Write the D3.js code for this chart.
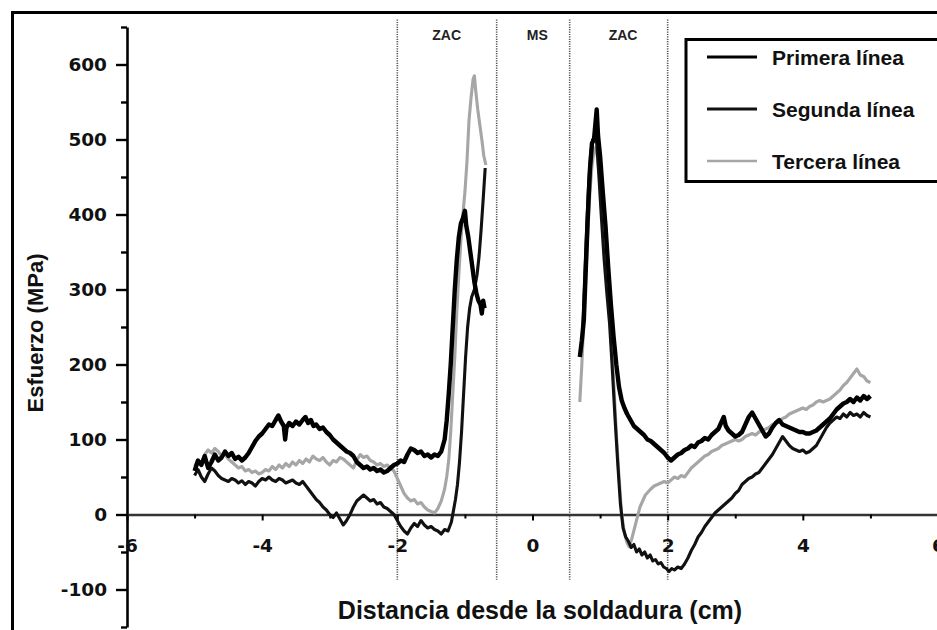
<!DOCTYPE html>
<html><head><meta charset="utf-8">
<script src="https://cdn.jsdelivr.net/npm/d3@7"></script>
<style>html,body{margin:0;padding:0;background:#fff;}svg{display:block;}</style>
</head><body>
<svg id="chart" width="937" height="630"></svg>
<script>
// ---------- DATA ----------
const xMajorTicks = [-6, -4, -2, 0, 2, 4, 6];
const xMinorTicks = [-5, -3, -1, 1, 3, 5];
const yMajorTicks = [-100, 0, 100, 200, 300, 400, 500, 600];
const yMinorTicks = [-150, -50, 50, 150, 250, 350, 450, 550, 650];
const zoneBounds = [-2, -0.53, 0.55, 2];
const zoneLabels = [{x: -1.27, t: "ZAC"}, {x: 0.07, t: "MS"}, {x: 1.34, t: "ZAC"}];
const seriesNames = ["Primera línea", "Segunda línea", "Tercera línea"];
const xTitle = "Distancia desde la soldadura (cm)";
const yTitle = "Esfuerzo (MPa)";

const primeraIzq = [[-5.00,58],[-4.95,72],[-4.90,66],[-4.85,78],[-4.80,62],[-4.75,70],[-4.70,80],[-4.65,72],[-4.60,76],[-4.55,84],[-4.50,78],[-4.45,82],[-4.40,74],[-4.35,77],[-4.30,72],[-4.25,76],[-4.20,82],[-4.15,90],[-4.10,98],[-4.05,104],[-4.00,108],[-3.95,114],[-3.90,120],[-3.85,118],[-3.80,126],[-3.76,132],[-3.72,124],[-3.68,118],[-3.66,100],[-3.64,116],[-3.60,122],[-3.55,118],[-3.50,124],[-3.45,120],[-3.40,126],[-3.36,130],[-3.32,122],[-3.28,126],[-3.24,118],[-3.20,120],[-3.15,114],[-3.10,116],[-3.05,110],[-3.00,106],[-2.95,100],[-2.90,96],[-2.85,92],[-2.80,88],[-2.75,84],[-2.70,82],[-2.65,78],[-2.60,70],[-2.55,66],[-2.50,62],[-2.45,64],[-2.40,60],[-2.35,62],[-2.30,58],[-2.25,60],[-2.20,56],[-2.15,58],[-2.10,62],[-2.05,66],[-2.00,68],[-1.95,72],[-1.90,70],[-1.85,80],[-1.80,88],[-1.75,86],[-1.70,82],[-1.65,84],[-1.60,78],[-1.55,80],[-1.50,76],[-1.45,80],[-1.40,78],[-1.35,84],[-1.30,100],[-1.27,125],[-1.24,160],[-1.21,200],[-1.18,250],[-1.15,300],[-1.12,340],[-1.09,370],[-1.06,388],[-1.03,395],[-1.00,405],[-0.98,385],[-0.95,370],[-0.92,350],[-0.89,330],[-0.86,310],[-0.83,295],[-0.80,285],[-0.77,280],[-0.75,268],[-0.73,285],[-0.71,275]];
const primeraDer = [[0.70,210],[0.73,232],[0.76,260],[0.79,330],[0.82,400],[0.85,460],[0.88,495],[0.91,500],[0.93,520],[0.95,540],[0.97,505],[1.00,478],[1.04,430],[1.08,385],[1.12,330],[1.16,280],[1.20,237],[1.24,200],[1.28,170],[1.32,152],[1.36,142],[1.40,134],[1.45,126],[1.50,118],[1.55,114],[1.60,110],[1.65,106],[1.70,100],[1.75,98],[1.80,94],[1.85,90],[1.90,86],[1.95,82],[2.00,76],[2.05,72],[2.10,76],[2.15,80],[2.20,82],[2.25,86],[2.30,88],[2.35,92],[2.40,90],[2.45,96],[2.50,98],[2.55,102],[2.60,100],[2.65,106],[2.70,110],[2.75,114],[2.80,124],[2.83,130],[2.86,118],[2.90,112],[2.95,108],[3.00,104],[3.05,106],[3.10,110],[3.15,120],[3.20,130],[3.25,136],[3.30,128],[3.35,120],[3.40,112],[3.45,104],[3.50,108],[3.55,116],[3.60,122],[3.65,126],[3.70,120],[3.75,118],[3.80,116],[3.85,114],[3.90,112],[3.95,110],[4.00,110],[4.05,108],[4.10,108],[4.15,110],[4.20,112],[4.25,116],[4.30,120],[4.35,124],[4.40,128],[4.45,134],[4.50,140],[4.55,144],[4.60,148],[4.65,150],[4.70,154],[4.75,150],[4.80,156],[4.85,152],[4.90,158],[4.95,154],[5.00,158]];
const segundaIzq = [[-5.00,52],[-4.95,60],[-4.90,50],[-4.85,44],[-4.80,54],[-4.75,62],[-4.70,58],[-4.65,52],[-4.60,48],[-4.55,46],[-4.50,44],[-4.45,48],[-4.40,46],[-4.35,42],[-4.30,45],[-4.25,40],[-4.20,44],[-4.15,42],[-4.10,38],[-4.05,44],[-4.00,48],[-3.95,46],[-3.90,50],[-3.85,46],[-3.80,44],[-3.75,48],[-3.70,46],[-3.65,42],[-3.60,44],[-3.55,46],[-3.50,42],[-3.45,40],[-3.40,44],[-3.35,38],[-3.30,32],[-3.25,26],[-3.20,20],[-3.15,16],[-3.10,10],[-3.05,6],[-3.00,0],[-2.95,-4],[-2.90,2],[-2.85,-6],[-2.80,-14],[-2.75,-8],[-2.70,0],[-2.65,10],[-2.60,18],[-2.55,22],[-2.50,26],[-2.45,22],[-2.40,18],[-2.35,20],[-2.30,14],[-2.25,16],[-2.20,10],[-2.15,8],[-2.10,4],[-2.05,0],[-2.00,-8],[-1.95,-16],[-1.90,-22],[-1.85,-26],[-1.80,-18],[-1.75,-12],[-1.70,-16],[-1.65,-8],[-1.60,-14],[-1.55,-18],[-1.50,-16],[-1.45,-20],[-1.40,-22],[-1.35,-26],[-1.30,-20],[-1.25,-22],[-1.20,-10],[-1.17,5],[-1.14,20],[-1.11,40],[-1.08,70],[-1.05,110],[-1.02,160],[-0.99,210],[-0.96,250],[-0.93,275],[-0.90,290],[-0.86,300],[-0.82,320],[-0.79,345],[-0.76,380],[-0.73,420],[-0.70,462]];
const segundaDer = [[0.74,240],[0.77,310],[0.80,380],[0.83,440],[0.86,480],[0.89,500],[0.92,502],[0.95,495],[0.98,455],[1.02,395],[1.06,340],[1.10,295],[1.14,255],[1.18,195],[1.22,130],[1.26,70],[1.30,15],[1.34,-18],[1.38,-30],[1.42,-36],[1.46,-44],[1.50,-40],[1.54,-50],[1.58,-46],[1.62,-54],[1.66,-50],[1.70,-58],[1.74,-54],[1.78,-62],[1.82,-60],[1.86,-66],[1.90,-64],[1.94,-70],[1.98,-72],[2.02,-76],[2.06,-72],[2.10,-74],[2.15,-70],[2.20,-72],[2.25,-66],[2.30,-58],[2.35,-48],[2.40,-40],[2.45,-30],[2.50,-24],[2.55,-16],[2.60,-10],[2.65,-4],[2.70,2],[2.75,6],[2.80,10],[2.85,14],[2.90,18],[2.95,22],[3.00,28],[3.05,32],[3.10,40],[3.15,44],[3.20,48],[3.25,50],[3.30,54],[3.35,56],[3.40,62],[3.45,68],[3.50,74],[3.55,80],[3.60,88],[3.65,96],[3.70,104],[3.75,98],[3.80,92],[3.85,88],[3.90,86],[3.95,84],[4.00,86],[4.05,82],[4.10,84],[4.15,88],[4.20,92],[4.25,100],[4.30,108],[4.35,116],[4.40,122],[4.45,126],[4.50,130],[4.55,128],[4.60,134],[4.65,130],[4.70,136],[4.75,132],[4.80,134],[4.85,130],[4.90,136],[4.95,132],[5.00,130]];
const terceraIzq = [[-5.00,64],[-4.95,72],[-4.90,68],[-4.85,80],[-4.80,86],[-4.75,82],[-4.70,88],[-4.65,84],[-4.60,78],[-4.55,80],[-4.50,74],[-4.45,70],[-4.40,66],[-4.35,62],[-4.30,64],[-4.25,58],[-4.20,60],[-4.15,56],[-4.10,58],[-4.05,54],[-4.00,56],[-3.95,60],[-3.90,58],[-3.85,64],[-3.80,60],[-3.75,66],[-3.70,62],[-3.65,68],[-3.60,64],[-3.55,70],[-3.50,66],[-3.45,72],[-3.40,68],[-3.35,74],[-3.30,70],[-3.25,78],[-3.20,74],[-3.15,72],[-3.10,76],[-3.05,70],[-3.00,66],[-2.95,72],[-2.90,70],[-2.85,76],[-2.80,74],[-2.75,70],[-2.70,66],[-2.65,62],[-2.60,72],[-2.55,80],[-2.50,76],[-2.45,78],[-2.40,72],[-2.35,70],[-2.30,66],[-2.25,68],[-2.20,64],[-2.15,66],[-2.10,62],[-2.05,58],[-2.00,48],[-1.95,38],[-1.90,28],[-1.85,22],[-1.80,18],[-1.75,20],[-1.70,14],[-1.65,16],[-1.60,10],[-1.55,6],[-1.50,4],[-1.45,2],[-1.40,8],[-1.35,18],[-1.30,34],[-1.27,50],[-1.24,72],[-1.21,110],[-1.18,160],[-1.15,210],[-1.12,270],[-1.09,320],[-1.06,365],[-1.03,400],[-1.00,430],[-0.97,470],[-0.94,525],[-0.91,555],[-0.88,580],[-0.86,585],[-0.84,565],[-0.81,540],[-0.78,520],[-0.75,500],[-0.72,478],[-0.69,466]];
const terceraDer = [[0.70,150],[0.73,200],[0.76,260],[0.79,320],[0.82,380],[0.85,430],[0.88,465],[0.91,485],[0.94,490],[0.97,470],[1.00,440],[1.04,390],[1.08,340],[1.12,290],[1.16,240],[1.20,180],[1.24,110],[1.28,50],[1.32,0],[1.36,-25],[1.40,-38],[1.43,-43],[1.47,-32],[1.51,-18],[1.55,-4],[1.59,10],[1.63,18],[1.67,26],[1.71,30],[1.75,34],[1.80,38],[1.85,40],[1.90,42],[1.95,44],[2.00,42],[2.05,46],[2.10,50],[2.15,48],[2.20,52],[2.25,50],[2.30,56],[2.35,62],[2.40,66],[2.45,70],[2.50,74],[2.55,78],[2.60,80],[2.65,84],[2.70,86],[2.75,88],[2.80,92],[2.85,94],[2.90,96],[2.95,98],[3.00,100],[3.05,98],[3.10,100],[3.15,104],[3.20,106],[3.25,108],[3.30,106],[3.35,110],[3.40,112],[3.45,114],[3.50,116],[3.55,120],[3.60,122],[3.65,124],[3.70,128],[3.75,130],[3.80,134],[3.85,136],[3.90,138],[3.95,140],[4.00,142],[4.05,140],[4.10,144],[4.15,146],[4.20,150],[4.25,152],[4.30,150],[4.35,152],[4.40,154],[4.45,158],[4.50,162],[4.55,166],[4.60,172],[4.65,176],[4.70,182],[4.75,188],[4.80,194],[4.85,186],[4.90,184],[4.95,178],[5.00,176]];

// ---------- LAYOUT ----------
const svg = d3.select("#chart");
const x = d3.scaleLinear().domain([-6, 6]).range([127, 938]);
const y = d3.scaleLinear().domain([-150, 650]).range([627, 27]);
const tickFont = "'DejaVu Sans', sans-serif";
const textFont = "'Liberation Sans', Arial, sans-serif";

// outer frame
svg.append("rect").attr("x", 12.5).attr("y", 12.5).attr("width", 960).attr("height", 660)
  .attr("fill", "none").attr("stroke", "#000").attr("stroke-width", 3);

// zone boundaries (dotted)
svg.append("g").selectAll("line").data(zoneBounds).join("line")
  .attr("x1", d => x(d)).attr("x2", d => x(d))
  .attr("y1", y(660)).attr("y2", y(-87))
  .attr("stroke", "#555").attr("stroke-width", 1.6).attr("stroke-dasharray", "1.2,1.2");

svg.append("g").selectAll("text").data(zoneLabels).join("text")
  .attr("x", d => x(d.x)).attr("y", 40).attr("text-anchor", "middle")
  .attr("font-family", textFont).attr("font-weight", "bold").attr("font-size", 14)
  .attr("fill", "#222").text(d => d.t);

// Y axis
const yAxis = svg.append("g").attr("transform", `translate(${x(-6)},0)`)
  .call(d3.axisLeft(y).tickValues(yMajorTicks).tickSize(11).tickSizeOuter(0).tickPadding(9).tickFormat(d => String(d)));
yAxis.select(".domain").attr("stroke-width", 2.6);
yAxis.selectAll(".tick line").attr("stroke-width", 2.4);
yAxis.selectAll("text").attr("font-family", tickFont).attr("font-weight", "bold").attr("font-size", 18.5).attr("fill", "#111");
const yMinor = svg.append("g").attr("transform", `translate(${x(-6)},0)`)
  .call(d3.axisLeft(y).tickValues(yMinorTicks).tickSize(6).tickFormat(""));
yMinor.select(".domain").remove();
yMinor.selectAll(".tick line").attr("stroke-width", 2.4);

// X axis at y = 0
const xAxis = svg.append("g").attr("transform", `translate(0,${y(0)})`)
  .call(d3.axisBottom(x).tickValues(xMajorTicks).tickSize(6).tickSizeOuter(0).tickPadding(18).tickFormat(d => String(d)));
xAxis.select(".domain").attr("stroke", "#333").attr("stroke-width", 2.6);
xAxis.selectAll(".tick line").attr("stroke-width", 2);
xAxis.selectAll("text").attr("font-family", tickFont).attr("font-weight", "bold").attr("font-size", 18.5).attr("fill", "#111");
const xMinor = svg.append("g").attr("transform", `translate(0,${y(0)})`)
  .call(d3.axisBottom(x).tickValues(xMinorTicks).tickSize(4).tickFormat(""));
xMinor.select(".domain").remove();
xMinor.selectAll(".tick line").attr("stroke-width", 2);

// axis titles
svg.append("text").attr("x", 540).attr("y", 619).attr("text-anchor", "middle")
  .attr("font-family", textFont).attr("font-weight", "bold").attr("font-size", 25).attr("fill", "#111")
  .text(xTitle);
svg.append("text").attr("transform", "translate(43,333) rotate(-90)").attr("text-anchor", "middle")
  .attr("font-family", textFont).attr("font-weight", "bold").attr("font-size", 22).attr("fill", "#111")
  .text(yTitle);

// series
const line = d3.line().x(d => x(d[0])).y(d => y(d[1]));
const styles = [
  {stroke: "#000", w: 4.4},
  {stroke: "#111", w: 3.1},
  {stroke: "#a6a6a6", w: 3.1}
];
const series = [
  {segs: [terceraIzq, terceraDer], s: styles[2]},
  {segs: [segundaIzq, segundaDer], s: styles[1]},
  {segs: [primeraIzq, primeraDer], s: styles[0]}
];
series.forEach(sr => {
  svg.append("g").selectAll("path").data(sr.segs).join("path")
    .attr("d", line).attr("fill", "none")
    .attr("stroke", sr.s.stroke).attr("stroke-width", sr.s.w)
    .attr("stroke-linejoin", "round");
});

// legend
const lg = svg.append("g");
lg.append("rect").attr("x", 686).attr("y", 39.5).attr("width", 300).attr("height", 142)
  .attr("fill", "#fff").attr("stroke", "#000").attr("stroke-width", 3);
const legendRows = [57, 109, 161];
seriesNames.forEach((n, i) => {
  lg.append("line").attr("x1", 707).attr("x2", 757).attr("y1", legendRows[i]).attr("y2", legendRows[i])
    .attr("stroke", styles[i].stroke).attr("stroke-width", i === 2 ? 2.4 : 3);
  lg.append("text").attr("x", 772).attr("y", legendRows[i] + 8)
    .attr("font-family", textFont).attr("font-weight", "bold").attr("font-size", 21).attr("fill", "#111")
    .text(n);
});
</script>
</body></html>
